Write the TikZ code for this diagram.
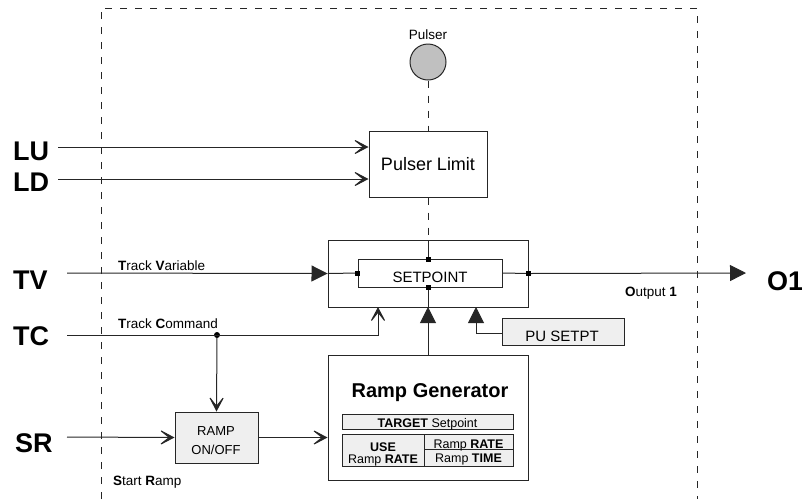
\documentclass[tikz,border=0pt]{standalone}
\usepackage{fontspec}
\setmainfont{Liberation Sans}
\usetikzlibrary{arrows.meta}
\definecolor{lc}{HTML}{262626}
\definecolor{boxg}{HTML}{EFEFEF}
\definecolor{pulg}{HTML}{C0C0C0}
\begin{document}
\begin{tikzpicture}[x=1pt,y=-1pt,
  wire/.style={draw=lc, line width=1pt},
  barb/.style={wire, -{Stealth[length=18pt,width=19pt,inset=12pt]}},
  tri/.style={wire, -{Triangle[length=16pt,width=16pt]}},
  dashline/.style={draw=lc, line width=1pt, dash pattern=on 7pt off 8pt},
  blk/.style={draw=lc, line width=1pt, rectangle, inner sep=0pt},
  gry/.style={blk, fill=boxg},
  sq/.style={fill=black, minimum size=5pt, inner sep=0pt, rectangle},
  dot/.style={fill=black, circle, minimum size=6pt, inner sep=0pt},
  big/.style={font=\fontsize{27}{30}\selectfont\bfseries, inner sep=0pt},
  lbl/.style={font=\fontsize{13.5}{15}\selectfont, inner sep=0pt},
  tab/.style={font=\fontsize{12.5}{14}\selectfont, inner sep=0pt, anchor=base},
]
\useasboundingbox (0,0) rectangle (802,499);
% dashed enclosure
\draw[dashline] (101,499) -- (101,8) -- (697,8) -- (697,499);

% Pulser
\node[circle, draw=lc, line width=1pt, fill=pulg, minimum size=36pt, inner sep=0pt] (pulser) at (428,62) {};
\node[lbl, anchor=base] (pulserlbl) at (428,39) {Pulser};
\node[blk, minimum width=118pt, minimum height=66pt, font=\fontsize{18}{20}\selectfont] (plimit) at (428,164) {Pulser Limit};

% setpoint boxes
\node[blk, minimum width=200pt, minimum height=67pt] (outer) at (428,273.5) {};
\node[blk, minimum width=144pt, minimum height=28pt] (inner) at (430,273) {};
\node[font=\fontsize{15}{17}\selectfont, inner sep=0pt, anchor=base] (sptxt) at (430,282) {SETPOINT};
\coordinate (itop) at (428,259);
\coordinate (ibot) at (428,287);
\coordinate (otop) at (428,240);
\coordinate (obot) at (428,307);

% Ramp generator
\node[blk, minimum width=200pt, minimum height=125pt] (rg) at (428,417.5) {};
\node[font=\fontsize{20}{22}\selectfont\bfseries, inner sep=0pt, anchor=base] (rgt) at (430,397) {Ramp Generator};
\node[gry, minimum width=171pt, minimum height=15pt] (tgt) at (427.5,421.5) {};
\node[gry, minimum width=82pt, minimum height=32pt] (usec) at (383,450) {};
\node[gry, minimum width=89pt, minimum height=15pt] (rratec) at (468.5,441.5) {};
\node[gry, minimum width=89pt, minimum height=17pt] (rtimec) at (468.5,457.5) {};
\node[tab] (tgtt) at (427.5,427.5) {\textbf{TARGET} Setpoint};
\node[tab] (uset) at (383,451) {\textbf{USE}};
\node[tab] (usert) at (383,463) {Ramp \textbf{RATE}};
\node[tab] (rratet) at (468.5,448) {Ramp \textbf{RATE}};
\node[tab] (rtimet) at (468.5,462) {Ramp \textbf{TIME}};

% RAMP ON/OFF and PU SETPT
\node[gry, minimum width=83pt, minimum height=51pt] (ramp) at (216.5,437.5) {};
\node[font=\fontsize{13}{15}\selectfont, inner sep=0pt, anchor=base] (rampt1) at (216,435) {RAMP};
\node[font=\fontsize{13}{15}\selectfont, inner sep=0pt, anchor=base] (rampt2) at (216,454.5) {ON/OFF};
\node[gry, minimum width=122pt, minimum height=27pt] (pu) at (563,331.5) {};
\node[font=\fontsize{15}{17}\selectfont, inner sep=0pt, anchor=base] (put) at (562,341.5) {PU SETPT};

% big labels
\node[big, anchor=base west] (LU) at (13,160) {LU};
\node[big, anchor=base west] (LD) at (13,191) {LD};
\node[big, anchor=base west] (TV) at (13,289) {TV};
\node[big, anchor=base west] (TC) at (13,345) {TC};
\node[big, anchor=base west] (SR) at (15,452) {SR};
\node[big, anchor=base west] (O1) at (767,290) {O1};

% small labels
\node[lbl, anchor=base west] (tvl) at (118,270) {\textbf{T}rack \textbf{V}ariable};
\node[lbl, anchor=base west] (tcl) at (118,328) {\textbf{T}rack \textbf{C}ommand};
\node[lbl, anchor=base west] (srl) at (113,485) {\textbf{S}tart \textbf{R}amp};
\node[lbl, anchor=base west] (o1l) at (625,296) {\textbf{O}utput \textbf{1}};

% start coordinates
\coordinate (luS) at (58,147);
\coordinate (ldS) at (58,179);
\coordinate (tvS) at (67,273);
\coordinate (tcS) at (67,335);
\coordinate (srS) at (67,437);
\coordinate (tcC) at (378,335);
\coordinate (puC) at (476,333);
\coordinate (o1E) at (746,273);
\node[dot] (tcJ) at (217,335) {};

% pulser connections
\draw[dashline] (pulser.south) -- (plimit.north);
\draw[dashline] (plimit.south) -- (otop);
\draw[wire] (otop) -- (itop);
\draw[barb] (luS) -- (luS -| plimit.west);
\draw[barb] (ldS) -- (ldS -| plimit.west);

% TV / output
\draw[tri] (tvS) -- (outer.west);
\draw[wire] (outer.west) -- (inner.west);
\draw[wire] (inner.east) -- (outer.east);
\draw[tri] (outer.east) -- (o1E);

% TC
\draw[barb] (tcS) -- (tcC) -- (tcC |- obot);
\draw[barb] (tcJ) -- (ramp.north);

% SR
\draw[barb] (srS) -- (ramp.west);
\draw[barb] (ramp.east) -- (ramp.east -| rg.west);

% ramp gen to setpoint
\draw[tri] (rg.north) -- (obot);
\draw[wire] (obot) -- (ibot);

% PU SETPT
\draw[tri] (pu.west |- puC) -- (puC) -- (puC |- obot);

% squares
\node[sq] (sqT) at (itop) {};
\node[sq] (sqB) at (ibot) {};
\node[sq] (sqL) at (inner.west) {};
\node[sq] (sqR) at (outer.east) {};
\end{tikzpicture}
\end{document}
